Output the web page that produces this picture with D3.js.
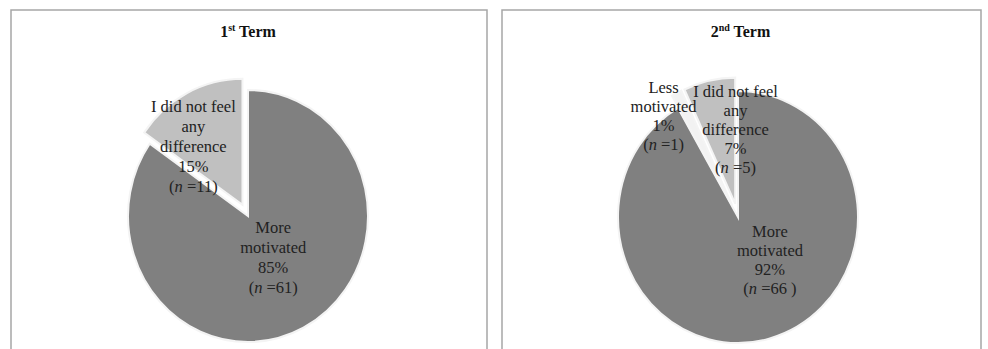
<!DOCTYPE html>
<html><head><meta charset="utf-8">
<script src="https://cdn.jsdelivr.net/npm/d3@7"></script>
<style>body{margin:0;background:#fff}svg{display:block}</style>
</head><body>
<script>
// ---- data ----
const term1Categories = ["More motivated", "I did not feel any difference"];
const term1Counts = [61, 11];
const term1Percents = ["85%", "15%"];
const term2Categories = ["More motivated", "Less motivated", "I did not feel any difference"];
const term2Counts = [66, 1, 5];
const term2Percents = ["92%", "1%", "7%"];
const titles = [["1", "st", " Term"], ["2", "nd", " Term"]];

// ---- layout / style ----
const W = 988, H = 349;
const colors = {"More motivated": "#808080", "I did not feel any difference": "#c0c0c0", "Less motivated": "#f2f2f2"};
const labelLines = {
  "More motivated": ["More", "motivated"],
  "I did not feel any difference": ["I did not feel", "any", "difference"],
  "Less motivated": ["Less", "motivated"]
};
const panels = [
  {x: 11, y: 10, w: 476, cx: 248, cy: 216, r: 120,
   cats: term1Categories, counts: term1Counts, pcts: term1Percents, title: titles[0],
   explode: {"I did not feel any difference": 12},
   label: {"More motivated": {r: 46, dx: 4, dy: -2, lh: 20}, "I did not feel any difference": {r: 88, dx: -14, dy: 12, lh: 20}}},
  {x: 502, y: 10, w: 479, cx: 738, cy: 217, r: 120,
   cats: term2Categories, counts: term2Counts, pcts: term2Percents, title: titles[1],
   explode: {"I did not feel any difference": 13, "Less motivated": 13},
   label: {"More motivated": {r: 54, dx: 18, dy: -12, lh: 19}, "Less motivated": {r: 120, dx: -19, dy: 10, lh: 19}, "I did not feel any difference": {r: 90, dx: 17, dy: 4, lh: 19}}}
];
const sy = 1.05;

const svg = d3.select("body").append("svg").attr("width", W).attr("height", H);

panels.forEach(p => {
  svg.append("rect").attr("x", p.x).attr("y", p.y).attr("width", p.w).attr("height", H + 20)
    .attr("fill", "#fff").attr("stroke", "#a6a6a6").attr("stroke-width", 1.5);

  const t = svg.append("text").attr("x", p.x + p.w / 2 - 1).attr("y", 37)
    .attr("text-anchor", "middle").attr("font-family", "Liberation Serif, Times New Roman, serif")
    .attr("font-weight", "bold").attr("font-size", 16).attr("fill", "#111");
  t.append("tspan").text(p.title[0]);
  t.append("tspan").text(p.title[1]).attr("font-size", 10).attr("dy", -6);
  t.append("tspan").text(p.title[2]).attr("dy", 6);

  const data = p.cats.map((c, i) => ({cat: c, n: p.counts[i], pct: p.pcts[i]}));
  const arcs = d3.pie().sort(null).value(d => d.n)(data);
  const arc = d3.arc().innerRadius(0).outerRadius(p.r);

  const g = svg.append("g").attr("transform", `translate(${p.cx},${p.cy})`);
  const pg = g.append("g").attr("transform", `scale(1,${sy})`);
  pg.selectAll("path").data(arcs).join("path")
    .attr("d", arc)
    .attr("transform", d => {
      const e = p.explode[d.data.cat] || 0;
      const a = (d.startAngle + d.endAngle) / 2;
      return `translate(${Math.sin(a) * e},${-Math.cos(a) * e})`;
    })
    .attr("fill", d => colors[d.data.cat])
    .attr("stroke", "#f4f4f4").attr("stroke-width", 2).attr("stroke-linejoin", "miter");

  arcs.forEach(d => {
    const L = p.label[d.data.cat];
    const la = d3.arc().innerRadius(L.r).outerRadius(L.r);
    const c = la.centroid(d);
    const lines = labelLines[d.data.cat].concat([d.data.pct]);
    const x = c[0] + L.dx, y = c[1] * sy + L.dy;
    const total = lines.length + 1;
    const y0 = y - (total - 1) * L.lh / 2;
    const txt = g.append("text").attr("text-anchor", "middle")
      .attr("font-family", "Liberation Serif, Times New Roman, serif")
      .attr("font-size", 16.5).attr("fill", "#222");
    lines.forEach((ln, i) => {
      txt.append("tspan").attr("x", x).attr("y", y0 + i * L.lh).attr("dy", "0.35em").text(ln);
    });
    const last = txt.append("tspan").attr("x", x).attr("y", y0 + lines.length * L.lh).attr("dy", "0.35em");
    last.append("tspan").text("(");
    last.append("tspan").attr("font-style", "italic").text("n");
    last.append("tspan").text(" =" + d.data.n + (p === panels[1] && d.data.cat === "More motivated" ? " )" : ")"));
  });
});
</script>
</body></html>
